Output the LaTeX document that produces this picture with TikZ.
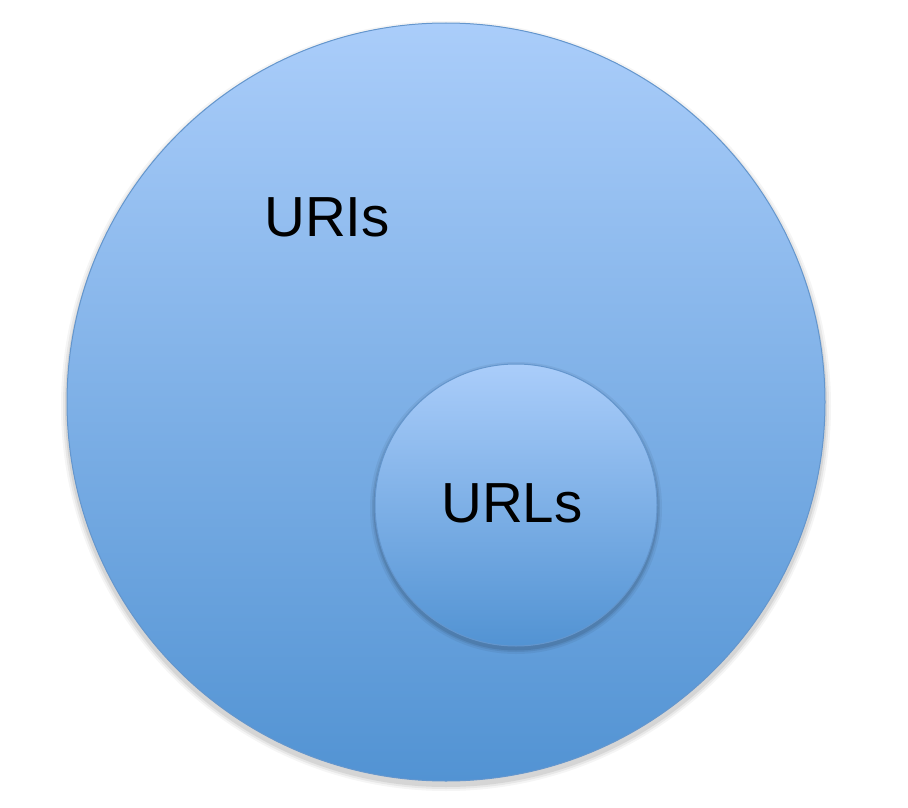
\documentclass[tikz,border=0pt]{standalone}
\usepackage{fontspec}
\setmainfont{Liberation Sans}
\definecolor{toplight}{RGB}{170,205,250}
\definecolor{botdark}{RGB}{82,147,211}
\definecolor{rimblue}{RGB}{100,150,205}
\tikzset{
  setcircle/.style={circle, inner sep=0pt, shade, top color=toplight, bottom color=botdark, draw=rimblue, line width=1pt},
  lbl/.style={font=\fontsize{56.5}{62}\selectfont, text=black, inner sep=0pt}
}
\begin{document}
\begin{tikzpicture}[x=1pt,y=-1pt]
\useasboundingbox (0,0) rectangle (908,808);
% soft shadows
\foreach \r/\o in {6/0.04,4/0.06,2/0.08}{
  \fill[black,opacity=\o] (446,406) circle ({379+\r});
}
\node[setcircle, minimum size=758pt] (uris) at (446,402) {};
\foreach \r/\o in {5/0.05,3/0.07,1.5/0.09}{
  \fill[black,opacity=\o] (516,508) circle ({141+\r});
}
\node[setcircle, minimum size=282pt] (urls) at (516,505) {};
\node[lbl] (uritext) at (327,217) {URIs};
\node[lbl] (urltext) at (512,503) {URLs};
\end{tikzpicture}
\end{document}
